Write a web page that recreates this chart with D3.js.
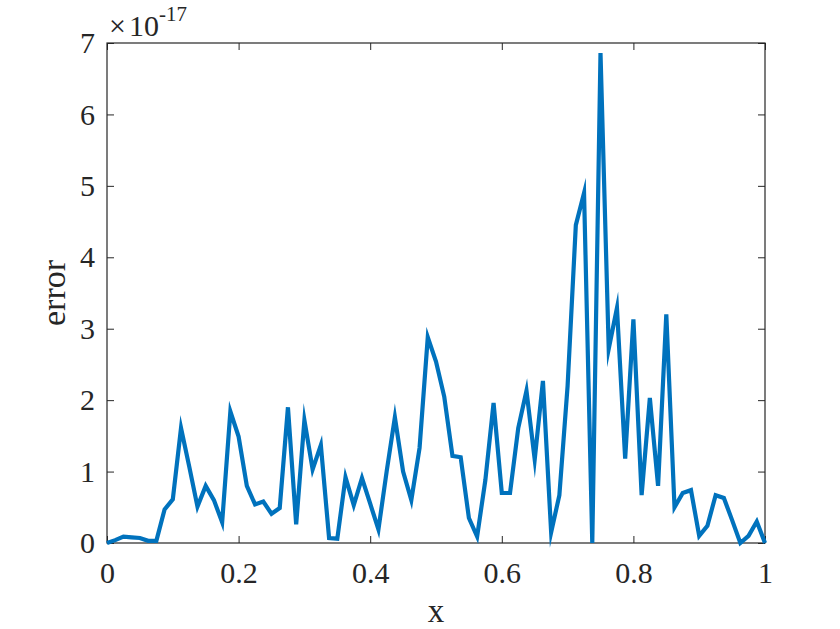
<!DOCTYPE html>
<html>
<head>
<meta charset="utf-8">
<script src="https://cdn.jsdelivr.net/npm/d3@7"></script>
<style>
  body { margin: 0; background: #fff; }
  text { font-family: "Liberation Serif", "Times New Roman", Times, serif; fill: #262626; }
</style>
</head>
<body>
<div class="canvas"></div>
<script>
// error values, in units of 1e-17, sampled at x = i / 80
const errorVals = [
    0, 0.04, 0.09, 0.08, 0.07, 0.03, 0.03, 0.47, 0.61, 1.61,
    1.07, 0.51, 0.80, 0.60, 0.29, 1.84, 1.49, 0.80, 0.54, 0.58,
    0.41, 0.49, 1.90, 0.26, 1.72, 1.03, 1.37, 0.07, 0.06, 0.92,
    0.53, 0.91, 0.55, 0.19, 1.00, 1.76, 1.00, 0.60, 1.33, 2.88,
    2.54, 2.05, 1.22, 1.20, 0.35, 0.09, 0.88, 1.96, 0.70, 0.70,
    1.61, 2.13, 1.17, 2.27, 0.15, 0.67, 2.20, 4.45, 4.90, 0,
    6.86, 2.72, 3.29, 1.18, 3.13, 0.67, 2.03, 0.80, 3.20, 0.50,
    0.70, 0.74, 0.10, 0.24, 0.67, 0.63, 0.32, 0, 0.10, 0.30,
    0
];
const xVals = errorVals.map((v, i) => i / 80);

const xTicks = [0, 0.2, 0.4, 0.6, 0.8, 1];
const yTicks = [0, 1, 2, 3, 4, 5, 6, 7];

const dims = { width: 840, height: 629 };
const margin = { left: 107, top: 43, right: 75, bottom: 86 };
const plotW = dims.width - margin.left - margin.right;
const plotH = dims.height - margin.top - margin.bottom;
const serif = '"Liberation Serif", "Times New Roman", Times, serif';

const svg = d3.select('.canvas')
    .append('svg')
    .attr('width', dims.width)
    .attr('height', dims.height)
;

const graph = svg.append('g')
    .attr('transform', `translate(${margin.left}, ${margin.top})`)
;

const x = d3.scaleLinear().domain([0, 1]).range([0, plotW]);
const y = d3.scaleLinear().domain([0, 7]).range([plotH, 0]);

const fmtX = d => (d === 0 || d === 1) ? String(d) : d3.format('.1f')(d);

// axes with inward ticks, matlab style
const styleAxis = (g) => {
    g.attr('font-family', serif).attr('font-size', 30);
    g.select('.domain').remove();
    g.selectAll('line').attr('stroke', '#262626').attr('stroke-width', 1);
    g.selectAll('text')
        .attr('fill', '#262626')
        .style('font-family', serif)
        .style('font-size', '30px');
};

graph.append('g')
    .attr('transform', `translate(0, ${plotH})`)
    .call(d3.axisBottom(x).tickValues(xTicks).tickFormat(fmtX).tickSizeInner(-7).tickPadding(19))
    .call(styleAxis)
;
graph.append('g')
    .call(d3.axisTop(x).tickValues(xTicks).tickFormat('').tickSizeInner(-7))
    .call(styleAxis)
;
graph.append('g')
    .call(d3.axisLeft(y).tickValues(yTicks).tickFormat(d3.format('d')).tickSizeInner(-7).tickPadding(12))
    .call(styleAxis)
;
graph.append('g')
    .attr('transform', `translate(${plotW}, 0)`)
    .call(d3.axisRight(y).tickValues(yTicks).tickFormat('').tickSizeInner(-7))
    .call(styleAxis)
;

// box
graph.append('rect')
    .attr('width', plotW)
    .attr('height', plotH)
    .attr('fill', 'none')
    .attr('stroke', '#262626')
    .attr('stroke-width', 1.2)
;

// the line
const line = d3.line()
    .x((d, i) => x(xVals[i]))
    .y(d => y(d))
;

graph.append('path')
    .datum(errorVals)
    .attr('d', line)
    .attr('fill', 'none')
    .attr('stroke', '#0072BD')
    .attr('stroke-width', 4.2)
    .attr('stroke-linejoin', 'miter')
    .attr('stroke-miterlimit', 10)
;

// labels
svg.append('text')
    .attr('x', margin.left + plotW / 2)
    .attr('y', 622)
    .attr('text-anchor', 'middle')
    .style('font-size', '33px')
    .text('x')
;

svg.append('text')
    .attr('transform', `translate(65, ${margin.top + plotH / 2}) rotate(-90)`)
    .attr('text-anchor', 'middle')
    .style('font-size', '34px')
    .text('error')
;

// exponent
const expo = svg.append('text')
    .attr('x', 109)
    .attr('y', 36)
    .style('font-size', '30px')
;
expo.append('tspan').text('×');
expo.append('tspan').attr('dx', 3).text('10');
expo.append('tspan')
    .attr('dy', -15)
    .style('font-size', '21px')
    .text('-17');
</script>
</body>
</html>
